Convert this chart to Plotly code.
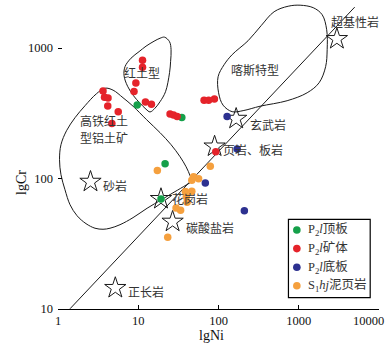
import math
import plotly.graph_objects as go

# ---------------- data ----------------
# P2l roof (green)
green_ni = [9.7, 34.9, 21.6, 19.2]
green_cr = [365, 294, 130, 69.7]
# P2l ore body (red)
red_ni = [11.3, 11.3, 9.34, 8.86, 12.3, 14.6, 3.64, 3.80, 4.20, 4.17, 5.63, 4.69,
          24.9, 27.5, 30.5, 66.1, 75.3, 88.9, 92.5]
red_cr = [806, 713, 540, 464, 386, 370, 468, 420, 414, 359, 324, 264,
          312, 306, 299, 398, 398, 407, 160]
# P2l floor (blue)
blue_ni = [128, 171, 68.5, 210]
blue_cr = [298, 168, 92.4, 56.6]
# S1hj mudstone/shale (orange)
orange_ni = [17.3, 79.0, 48.9, 56.5, 46.5, 38.7, 46.5, 39.7, 40.6, 29.6, 33.7, 23.3]
orange_cr = [115, 124, 103, 99.7, 97.1, 79.6, 79.9, 72.5, 65.8, 59.4, 57.2, 35.4]

# reference rocks (stars)
rock_names = ["超基性岩", "玄武岩", "页岩、板岩", "砂岩", "花岗岩", "碳酸盐岩", "正长岩"]
rock_ni = [2987, 166, 89.4, 2.54, 19.2, 26.8, 5.18]
rock_cr = [1172, 287, 176, 94.5, 69.7, 46.7, 14.5]

# field boundaries (lgNi, lgCr)
redsoil_lgni = [1.328, 1.390, 1.409, 1.403, 1.390, 1.340, 1.272, 1.209, 1.147, 1.097,
                1.022, 0.941, 0.867, 0.823, 0.835, 0.910, 1.010, 1.097, 1.197, 1.272, 1.328]
redsoil_lgcr = [3.083, 3.048, 2.987, 2.895, 2.811, 2.665, 2.589, 2.539, 2.510, 2.531,
                2.577, 2.634, 2.707, 2.788, 2.857, 2.922, 2.972, 3.014, 3.052, 3.075, 3.083]

hife_lgni = [0.586, 0.686, 0.810, 0.935, 1.103, 1.272, 1.409, 1.521, 1.596, 1.646, 1.665,
             1.602, 1.446, 1.291, 1.110, 0.935, 0.773, 0.648, 0.561, 0.461, 0.349, 0.237,
             0.150, 0.087, 0.037, 0.019, 0.037, 0.106, 0.212, 0.337, 0.480, 0.586]
hife_lgcr = [2.692, 2.677, 2.619, 2.554, 2.451, 2.351, 2.259, 2.167, 2.090, 2.021, 1.979,
             1.952, 1.895, 1.838, 1.772, 1.700, 1.646, 1.619, 1.611, 1.619, 1.654, 1.715,
             1.799, 1.914, 2.029, 2.144, 2.259, 2.366, 2.466, 2.558, 2.650, 2.692]

karst_lgni = [3.017, 3.180, 3.292, 3.348, 3.354, 3.335, 3.254, 3.105, 2.855, 2.519, 2.307,
              2.170, 2.057, 2.001, 1.995, 2.070, 2.170, 2.369, 2.531, 2.693, 2.868, 3.017]
karst_lgcr = [3.328, 3.309, 3.255, 3.140, 2.987, 2.857, 2.734, 2.657, 2.596, 2.554, 2.520,
              2.512, 2.562, 2.657, 2.780, 2.872, 2.949, 3.056, 3.171, 3.278, 3.320, 3.328]

trend_lgni = [0.150, 3.697]
trend_lgcr = [1.002, 3.313]

x_ticks = [1, 10, 100, 1000, 10000]
x_ticklabels = ["1", "10", "100", "1000", "10000"]
y_ticks = [10, 100, 1000]
y_ticklabels = ["10", "100", "1000"]

legend_labels = ["P<sub>2</sub><i>l</i>顶板", "P<sub>2</sub><i>l</i>矿体",
                 "P<sub>2</sub><i>l</i>底板", "S<sub>1</sub><i>hj</i>泥页岩"]

# ---------------- styling ----------------
C_GREEN, C_RED, C_BLUE, C_ORANGE = "#15a04a", "#e5232a", "#2d3190", "#f5a03e"
SERIF = "Liberation Serif, Noto Sans CJK SC, serif"
CJK = "Noto Sans CJK SC, sans-serif"
TXT = "#333333"

W, H = 391, 351
ML, MR, MT, MB = 58, 12.2, 2, 42
PW, PH = W - ML - MR, H - MT - MB


def px_x(px):
    return (px - ML) / PW


def px_y(py):
    return (H - MB - py) / PH


fig = go.Figure()


def curve(lgx, lgy):
    fig.add_trace(go.Scatter(
        x=[10 ** v for v in lgx], y=[10 ** v for v in lgy], mode="lines",
        line=dict(color="#1a1a1a", width=1, shape="spline", smoothing=1.0),
        hoverinfo="skip", showlegend=False))


curve(redsoil_lgni, redsoil_lgcr)
curve(hife_lgni, hife_lgcr)
curve(karst_lgni, karst_lgcr)
fig.add_trace(go.Scatter(
    x=[10 ** v for v in trend_lgni], y=[10 ** v for v in trend_lgcr], mode="lines",
    line=dict(color="#1a1a1a", width=1), hoverinfo="skip", showlegend=False))

fig.add_trace(go.Scatter(
    x=rock_ni, y=rock_cr, mode="markers",
    marker=dict(symbol="star-open", size=16, color="#1a1a1a", line=dict(width=1, color="#1a1a1a")),
    hoverinfo="skip", showlegend=False))

for xs, ys, c in [(green_ni, green_cr, C_GREEN), (red_ni, red_cr, C_RED),
                  (blue_ni, blue_cr, C_BLUE), (orange_ni, orange_cr, C_ORANGE)]:
    fig.add_trace(go.Scatter(x=xs, y=ys, mode="markers",
                             marker=dict(size=7.5, color=c, line=dict(width=0)),
                             hoverinfo="skip", showlegend=False))

# rock labels (offsets in pixels from each star)
label_offsets = [(-6.7, 17.6), (13, -5.5), (7.2, -3.3), (11.2, -3.7), (10, 0), (12.5, -5.5), (11.4, -3.4)]
annotations = []
for name, ni, cr, (dx, dy) in zip(rock_names, rock_ni, rock_cr, label_offsets):
    annotations.append(dict(x=math.log10(ni), y=math.log10(cr), xref="x", yref="y",
                            text=name, showarrow=False, xanchor="left", yanchor="middle",
                            xshift=dx, yshift=dy, borderpad=0,
                            font=dict(family=CJK, size=12, color=TXT)))

# field labels (pixel positions)
for txt, cx, cy in [("喀斯特型", 255.3, 69.3), ("红土型", 141.7, 72.3),
                    ("高铁红土", 104, 121), ("型铝土矿", 103.7, 137.3)]:
    annotations.append(dict(x=px_x(cx), y=px_y(cy), xref="paper", yref="paper", text=txt,
                            showarrow=False, xanchor="center", yanchor="middle", borderpad=0,
                            font=dict(family=CJK, size=12, color=TXT)))

# axis titles
annotations.append(dict(x=px_x(211.7), y=px_y(335.5), xref="paper", yref="paper", text="lgNi",
                        showarrow=False, xanchor="center", yanchor="middle",
                        font=dict(family=SERIF, size=14, color="#111")))
annotations.append(dict(x=px_x(21), y=px_y(182), xref="paper", yref="paper", text="lgCr",
                        showarrow=False, xanchor="center", yanchor="middle", textangle=-90,
                        font=dict(family=SERIF, size=14, color="#111")))
# last x tick label, pulled in from the right edge as in the reference
annotations.append(dict(x=px_x(368.3), y=px_y(320.5), xref="paper", yref="paper",
                        text=x_ticklabels[-1], showarrow=False, xanchor="center", yanchor="middle",
                        font=dict(family=SERIF, size=12.5, color="#111")))
x_ticktext = x_ticklabels[:-1] + [""]

# legend (manual)
shapes = []
lg_x0, lg_x1, lg_y0, lg_y1 = 288.3, 370, 219.3, 297.7
shapes.append(dict(type="rect", xref="paper", yref="paper", x0=px_x(lg_x0), x1=px_x(lg_x1),
                   y0=px_y(lg_y1), y1=px_y(lg_y0), line=dict(color="black", width=1.2),
                   fillcolor="white", layer="above"))
for i, (lab, c) in enumerate(zip(legend_labels, [C_GREEN, C_RED, C_BLUE, C_ORANGE])):
    yy = 230 + i * 18.6
    shapes.append(dict(type="circle", xref="paper", yref="paper", xsizemode="pixel",
                       ysizemode="pixel", xanchor=px_x(296.7), yanchor=px_y(yy),
                       x0=-3.8, x1=3.8, y0=-3.8, y1=3.8, fillcolor=c, line=dict(width=0),
                       layer="above"))
    annotations.append(dict(x=px_x(307), y=px_y(yy), xref="paper", yref="paper", text=lab,
                            showarrow=False, xanchor="left", yanchor="middle", borderpad=0,
                            font=dict(family=SERIF, size=12.5, color=TXT)))

# y axis line only from 10 to 1000
shapes.append(dict(type="line", xref="paper", yref="y", x0=0, x1=0, y0=1, y1=3,
                   line=dict(color="black", width=1.2)))

fig.update_layout(
    width=W, height=H, margin=dict(l=ML, r=MR, t=MT, b=MB, autoexpand=False),
    paper_bgcolor="white", plot_bgcolor="white", showlegend=False,
    annotations=annotations, shapes=shapes, hovermode=False,
    xaxis=dict(type="log", range=[0, 4], tickvals=x_ticks, ticktext=x_ticktext,
               ticks="inside", ticklen=4, tickwidth=1, tickcolor="black", automargin=False,
               showline=True, linecolor="black", linewidth=1.2, showgrid=False, zeroline=False,
               tickfont=dict(family=SERIF, size=12.5, color="#111")),
    yaxis=dict(type="log", range=[1, 1 + PH / 130.5], tickvals=y_ticks, ticktext=y_ticklabels,
               ticks="inside", ticklen=4, tickwidth=1, tickcolor="black", automargin=False,
               showline=False, showgrid=False, zeroline=False, ticklabelstandoff=4,
               tickfont=dict(family=SERIF, size=12.5, color="#111")),
)

fig.write_html("out.html", config={"displayModeBar": False},
               post_script="document.body.style.margin='0';document.body.style.padding='0';")
